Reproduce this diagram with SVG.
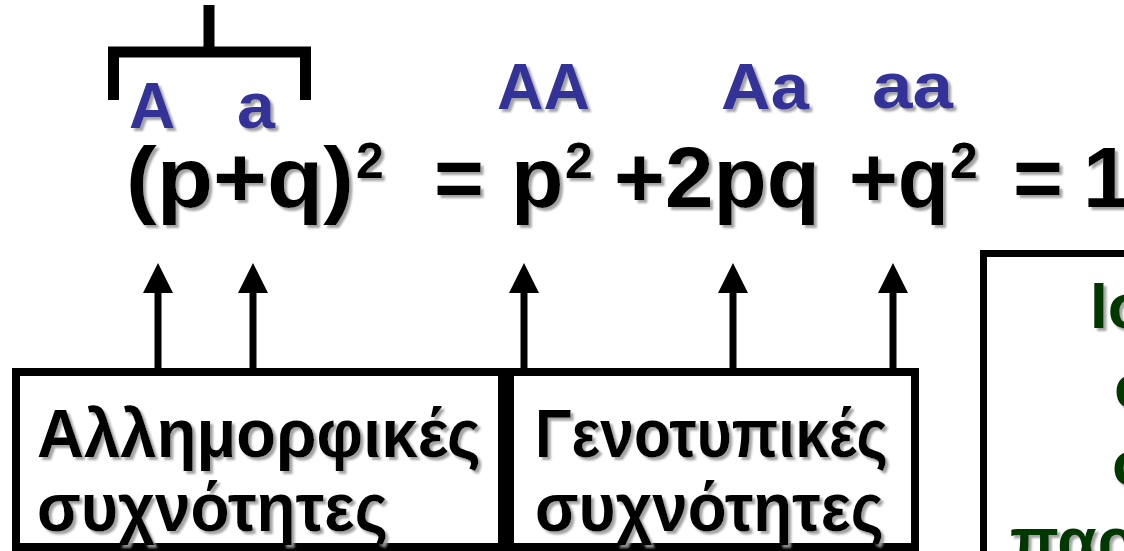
<svg xmlns="http://www.w3.org/2000/svg" width="1124" height="551" viewBox="0 0 1124 551">
<defs>
<filter id="sh" x="-10%" y="-10%" width="130%" height="140%">
<feDropShadow dx="3" dy="3" stdDeviation="0.8" flood-color="#9a9a9a" flood-opacity="0.9"/>
</filter>
<marker id="ah" viewBox="0 0 30 30" refX="1" refY="15" markerWidth="30" markerHeight="30" markerUnits="userSpaceOnUse" orient="auto">
<path d="M0,0 L30,15 L0,30 Z" fill="#000"/>
</marker>
</defs>
<style>
text{font-family:"Liberation Sans",Arial,sans-serif;font-weight:bold;filter:url(#sh)}
.eq{font-size:86px;fill:#000}
.sup{font-size:50px;fill:#000}
.al{font-size:64px;fill:#333399}
.lbl{font-size:68px;fill:#000}
.gr{font-size:64px;fill:#063806}
.box{fill:#fff;stroke:#000;stroke-width:8}
.con{stroke:#000;stroke-width:7;fill:none}
</style>
<rect width="1124" height="551" fill="#fff"/>
<g id="connectors">
<path d="M209,5 V52 M108,52 H311 M113.5,47 V100 M305.5,47 V100" stroke="#000" stroke-width="11" fill="none"/>
<line class="con" x1="158" y1="370" x2="158" y2="292" marker-end="url(#ah)"/>
<line class="con" x1="253" y1="370" x2="253" y2="292" marker-end="url(#ah)"/>
<line class="con" x1="524" y1="370" x2="524" y2="292" marker-end="url(#ah)"/>
<line class="con" x1="733" y1="370" x2="733" y2="292" marker-end="url(#ah)"/>
<line class="con" x1="893" y1="370" x2="893" y2="292" marker-end="url(#ah)"/>
</g>
<g id="alleles">
<text class="al" x="129" y="128">A</text>
<text class="al" x="237" y="128" textLength="38" lengthAdjust="spacingAndGlyphs">a</text>
</g>
<g id="genotypes">
<text class="al" x="497" y="109" textLength="93" lengthAdjust="spacingAndGlyphs">AA</text>
<text class="al" x="721" y="109" textLength="88" lengthAdjust="spacingAndGlyphs">Aa</text>
<text class="al" x="872" y="108" textLength="81" lengthAdjust="spacingAndGlyphs">aa</text>
</g>
<g id="equation">
<text class="eq" x="126" y="207" textLength="228" lengthAdjust="spacingAndGlyphs">(p+q)</text>
<text class="sup" x="356" y="178">2</text>
<text class="eq" x="434" y="207" textLength="50" lengthAdjust="spacingAndGlyphs">=</text>
<text class="eq" x="511" y="207">p</text>
<text class="sup" x="565" y="178">2</text>
<text class="eq" x="614" y="207" textLength="206" lengthAdjust="spacingAndGlyphs">+2pq</text>
<text class="eq" x="849" y="207" textLength="100" lengthAdjust="spacingAndGlyphs">+q</text>
<text class="sup" x="950" y="178">2</text>
<text class="eq" x="1013" y="207" textLength="50" lengthAdjust="spacingAndGlyphs">=</text>
<text class="eq" x="1083" y="207">1</text>
</g>
<g id="allele-box">
<rect class="box" x="16" y="372" width="486" height="175"/>
<text class="lbl" x="37" y="457" textLength="444" lengthAdjust="spacingAndGlyphs">Αλλημορφικές</text>
<text class="lbl" x="37" y="531" textLength="351" lengthAdjust="spacingAndGlyphs">συχνότητες</text>
</g>
<g id="genotype-box">
<rect class="box" x="510" y="372" width="405" height="175"/>
<text class="lbl" x="535" y="457" textLength="353" lengthAdjust="spacingAndGlyphs">Γενοτυπικές</text>
<text class="lbl" x="535" y="531" textLength="349" lengthAdjust="spacingAndGlyphs">συχνότητες</text>
</g>
<g id="note-box">
<rect x="983.5" y="253.5" width="300" height="400" fill="#fff" stroke="#000" stroke-width="7"/>
<text class="gr" x="1090" y="328">Ισορροπία</text>
<text class="gr" x="1114" y="408">σε</text>
<text class="gr" x="1112" y="485">σταθερό</text>
<text class="gr" x="1010" y="563">παραμένει</text>
</g>
</svg>
